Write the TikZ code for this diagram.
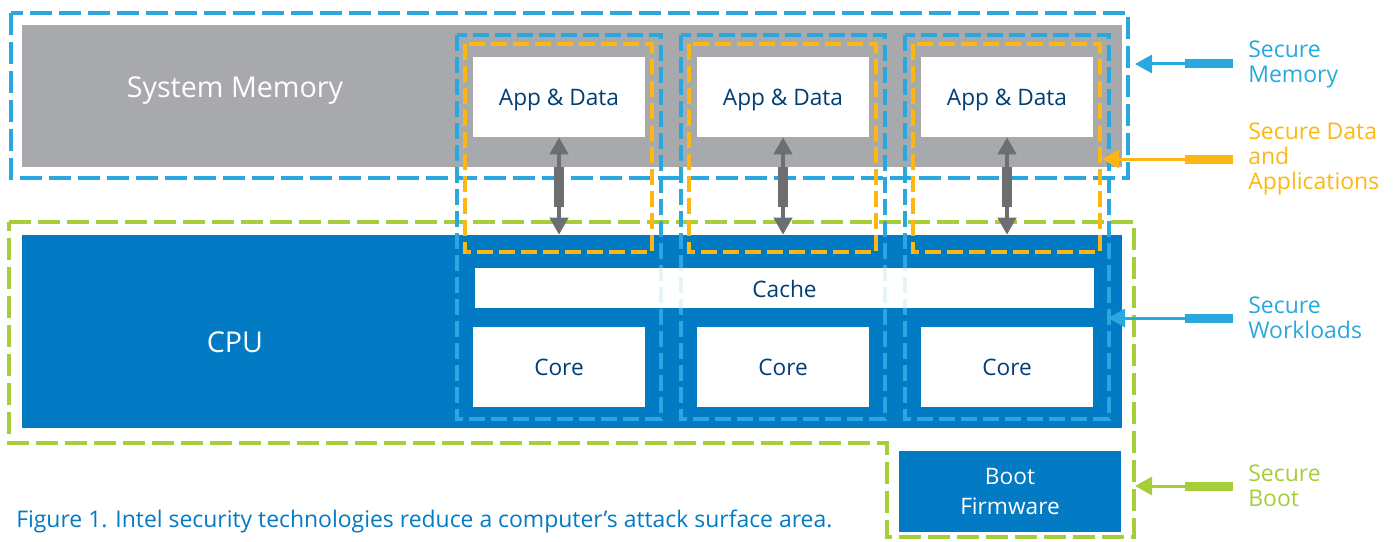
\documentclass[tikz,border=0pt]{standalone}
\usepackage{fontspec}
\setmainfont{Open Sans}
\usetikzlibrary{arrows.meta,positioning,calc}
\definecolor{memgray}{RGB}{167,169,172}
\definecolor{cpublue}{RGB}{3,122,196}
\definecolor{skyblue}{RGB}{41,168,224}
\definecolor{amber}{RGB}{253,183,20}
\definecolor{lime}{RGB}{166,206,57}
\definecolor{navy}{RGB}{0,62,118}
\definecolor{linkgray}{RGB}{109,110,113}
\tikzstyle{link} = [line width=3pt, {Triangle[length=12.75pt,width=13.5pt]}-{Triangle[length=12.75pt,width=13.5pt]}, color=linkgray]
\tikzset{
    slab/.style={
        rectangle, inner sep=0pt,
        minimum width=825pt
    },
    whitebox/.style={
        rectangle, inner sep=0pt,
        minimum width=129pt, minimum height=60pt,
        text height=13pt, text depth=0pt,
        fill=white, text=navy,
        font=\fontsize{17}{20}\selectfont
    },
    biglabel/.style={
        text=white, inner sep=0pt,
        font=\fontsize{21.5}{24}\selectfont
    },
    memdash/.style={
        draw=skyblue, line width=3pt,
        dash pattern=on 16.5pt off 5.25pt
    },
    bootdash/.style={
        draw=lime, line width=3pt,
        dash pattern=on 16.5pt off 5.25pt
    },
    workdash/.style={
        draw=skyblue, line width=3pt,
        dash pattern=on 12pt off 4.5pt
    },
    datadash/.style={
        draw=amber, line width=3pt,
        dash pattern=on 12pt off 4.5pt
    },
    linkbar/.style={
        line width=7.5pt, color=linkgray
    },
    sidelabel/.style={
        anchor=west, inner sep=0pt, align=left,
        font=\fontsize{17.25}{18.75}\selectfont
    },
    sidearrow/.style={
        line width=2.25pt,
        -{Triangle[length=12.75pt,width=13.5pt]}
    },
    sidebar/.style={
        line width=6.75pt
    }
}

\begin{document}
\begin{tikzpicture}[x=0.75pt, y=-0.75pt]
    \useasboundingbox (0,0) rectangle (1398,542);
    \node[slab, fill=memgray, minimum height=106.5pt] (mem) at (572,96) {};
    \node[slab, fill=cpublue, minimum height=144.75pt] (cpu) at (572,331.5) {};
    \node[biglabel] (memlbl) at (235,91) {System Memory};
    \node[biglabel] (cpulbl) at (235,342) {CPU};
    \node[rectangle, inner sep=0pt, fill=cpublue, text=white, align=center,
        minimum width=166.5pt, minimum height=60.75pt,
        font=\fontsize{17}{23}\selectfont] (boot) at (1010,491.5) {Boot\\Firmware};
    \node[rectangle, inner sep=0pt, fill=white,
        minimum width=464.25pt, minimum height=30pt] (cache) at (784.5,288) {};

    \draw[memdash] (11,13) rectangle (1128,178);
    \draw[bootdash] (9,222) -- (1134,222) -- (1134,537) -- (887,537) -- (887,443) -- (9,443) -- cycle;
    \foreach \i in {1,2,3}{
        \pgfmathsetmacro\cx{559+224*(\i-1)}
        \draw[workdash] (\cx-102,35) rectangle (\cx+102,419);
        \draw[datadash] (\cx-94,44) rectangle (\cx+93,252);
    }
    \fill[white, opacity=0.88] (cache.south west) rectangle (cache.north east);
    \node[text=navy, font=\fontsize{17}{20}\selectfont] (cachelbl) at ([yshift=-0.75pt]cache.center) {Cache};

    \foreach \i in {1,2,3}{
        \pgfmathsetmacro\cx{559+224*(\i-1)}
        \node[whitebox] (app\i) at (\cx,97) {App \& Data};
        \node[whitebox] (core\i) at (\cx,367) {Core};
        \draw[link] (app\i.south) -- (app\i.south |- cpu.north);
        \draw[linkbar] ($(app\i.south)+(0,30)$) -- ($(app\i.south)+(0,70)$);
    }

    \coordinate (memedge) at (1135,64);
    \coordinate (dataedge) at (1102,158);
    \coordinate (workedge) at (1108,317);
    \coordinate (bootedge) at (1135,485);
    \node[sidelabel, text=skyblue] (smem) at (1248,64) {Secure\\Memory};
    \node[sidelabel, text=amber] (sdata) at (1248,159) {Secure Data\\and\\Applications};
    \node[sidelabel, text=skyblue] (swork) at (1248,318) {Secure\\Workloads};
    \node[sidelabel, text=lime] (sboot) at (1248,486) {Secure\\Boot};
    \draw[sidearrow, skyblue] ([xshift=-11.25pt]smem.west) -- (smem.west -| memedge);
    \draw[sidebar, skyblue] ([xshift=-11.25pt]smem.west) -- ++(-48,0);
    \draw[sidearrow, amber] ([xshift=-11.25pt]sdata.west) -- (sdata.west -| dataedge);
    \draw[sidebar, amber] ([xshift=-11.25pt]sdata.west) -- ++(-48,0);
    \draw[sidearrow, skyblue] ([xshift=-11.25pt]swork.west) -- (swork.west -| workedge);
    \draw[sidebar, skyblue] ([xshift=-11.25pt]swork.west) -- ++(-48,0);
    \draw[sidearrow, lime] ([xshift=-11.25pt]sboot.west) -- (sboot.west -| bootedge);
    \draw[sidebar, lime] ([xshift=-11.25pt]sboot.west) -- ++(-48,0);

    \node[anchor=west, inner sep=0pt, text=cpublue, font=\fontsize{17.2}{20}\selectfont] (caption) at (16,521)
        {Figure 1. Intel security technologies reduce a computer’s attack surface area.};
\end{tikzpicture}
\end{document}
